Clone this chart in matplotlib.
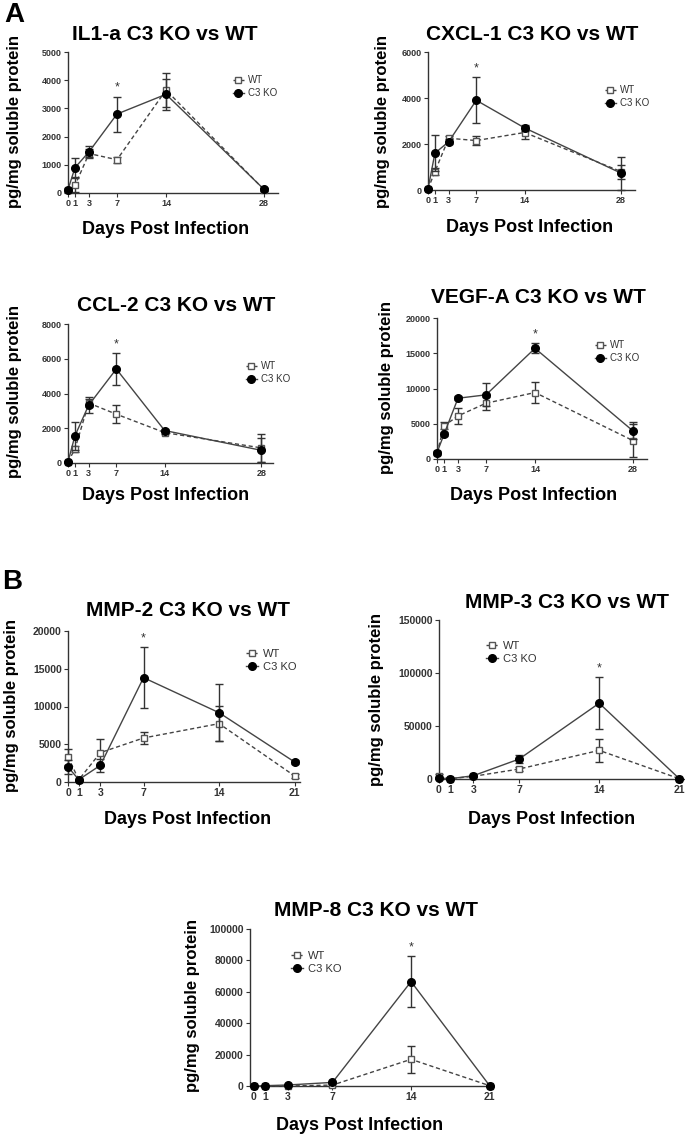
import matplotlib.pyplot as plt

plt.rcParams['font.family'] = ['Liberation Sans', 'DejaVu Sans']

W, H = 685, 1140

days_a = [0, 1, 3, 7, 14, 28]
days_b = [0, 1, 3, 7, 14, 21]

il1_wt = [100, 270, 1400, 1180, 3650, 120]
il1_wt_err = [50, 250, 150, 100, 600, 50]
il1_ko = [120, 900, 1460, 2800, 3500, 130]
il1_ko_err = [50, 330, 200, 620, 560, 50]

cxcl_wt = [40, 800, 2250, 2150, 2500, 800]
cxcl_wt_err = [30, 150, 100, 200, 300, 300]
cxcl_ko = [40, 1600, 2100, 3900, 2700, 730]
cxcl_ko_err = [30, 780, 100, 1000, 130, 720]

ccl_wt = [60, 800, 3450, 2810, 1750, 870]
ccl_wt_err = [30, 150, 250, 520, 80, 800]
ccl_ko = [60, 1560, 3330, 5410, 1870, 730]
ccl_ko_err = [30, 800, 470, 920, 100, 700]

vegf_wt = [800, 4690, 6110, 7910, 9430, 2610]
vegf_wt_err = [200, 500, 1100, 900, 1500, 2300]
vegf_ko = [900, 3500, 8620, 9100, 15700, 3980]
vegf_ko_err = [200, 300, 300, 1650, 700, 1200]

mmp2_wt = [3310, 300, 3890, 5830, 7730, 800]
mmp2_wt_err = [1000, 150, 1800, 750, 2300, 300]
mmp2_ko = [1990, 310, 2210, 13820, 9180, 2650]
mmp2_ko_err = [900, 150, 900, 4000, 3800, 200]

mmp3_wt = [2500, 300, 2500, 9400, 27000, 300]
mmp3_wt_err = [2000, 200, 500, 2300, 10700, 200]
mmp3_ko = [900, 300, 3100, 18800, 71500, 300]
mmp3_ko_err = [500, 200, 500, 3900, 24800, 200]

mmp8_wt = [0, 100, 0, 600, 17000, 200]
mmp8_wt_err = [0, 100, 200, 800, 8600, 100]
mmp8_ko = [0, 200, 640, 2300, 66500, 200]
mmp8_ko_err = [0, 100, 300, 500, 16400, 100]


def put(fig, x, y, s, **kw):
    fig.text(x / W, 1 - y / H, s, ha='center', va='center', **kw)


def panel(fig, box, days, wt, wt_err, ko, ko_err, yticks, xlim, star, title,
          title_xy, xlab_xy, ylab_xy, leg_xy, tsize, lsize):
    l, t, r, b = box
    ax = fig.add_axes([l / W, 1 - b / H, (r - l) / W, (b - t) / H])
    line_c = '#444444'
    eb_wt = ax.errorbar(days, wt, yerr=wt_err, color=line_c, ls=(0, (3, 2)),
                        lw=1, marker='s', ms=5, mfc='white', mec='#555555',
                        mew=1, ecolor='#333333', elinewidth=1, capsize=3,
                        clip_on=False, zorder=3)
    eb_ko = ax.errorbar(days, ko, yerr=ko_err, color=line_c, ls='-', lw=1,
                        marker='o', ms=5.5, mfc='black', mec='black',
                        ecolor='#333333', elinewidth=1, capsize=3,
                        clip_on=False, zorder=4)
    i = days.index(star)
    ax.annotate('*', xy=(star, ko[i] + ko_err[i]), xytext=(0, 2),
                textcoords='offset points', ha='center', va='bottom',
                fontsize=9, color='#333333')
    ax.set_xlim(*xlim)
    ax.set_ylim(0, yticks[-1])
    ax.set_xticks(days)
    ax.set_xticklabels([str(d) for d in days], fontsize=tsize, fontweight='bold')
    ax.set_yticks(yticks)
    ax.set_yticklabels([str(v) for v in yticks], fontsize=tsize, fontweight='bold')
    for side in ['top', 'right']:
        ax.spines[side].set_visible(False)
    for side in ['left', 'bottom']:
        ax.spines[side].set_color('#333333')
        ax.spines[side].set_linewidth(1)
    ax.tick_params(direction='out', length=3, width=0.8, pad=1.5, colors='#333333')

    leg = ax.legend([eb_wt[0], eb_ko[0]], ['WT', 'C3 KO'], loc='upper left',
                    bbox_to_anchor=((leg_xy[0] - l) / (r - l), (b - leg_xy[1]) / (b - t)),
                    frameon=False, handlelength=1.1, handletextpad=0.4,
                    borderaxespad=0, borderpad=0, labelspacing=0.3,
                    prop={'size': lsize})
    for txt in leg.get_texts():
        txt.set_color('#333333')

    put(fig, title_xy[0], title_xy[1], title, fontsize=15, fontweight='bold')
    put(fig, xlab_xy[0], xlab_xy[1], 'Days Post Infection', fontsize=13,
        fontweight='bold')
    put(fig, ylab_xy[0], ylab_xy[1], 'pg/mg soluble protein', fontsize=12,
        fontweight='bold', rotation=90)
    return ax


def main():
    fig = plt.figure(figsize=(W / 100, H / 100), dpi=100)

    panel(fig, (68, 52, 278, 193), days_a, il1_wt, il1_wt_err, il1_ko, il1_ko_err,
          [0, 1000, 2000, 3000, 4000, 5000], (0, 30), 7, 'IL1-a C3 KO vs WT',
          (165, 35), (166, 230), (15, 122), (233, 75), 6.5, 7)
    panel(fig, (428, 52, 635, 190), days_a, cxcl_wt, cxcl_wt_err, cxcl_ko, cxcl_ko_err,
          [0, 2000, 4000, 6000], (0, 30), 7, 'CXCL-1 C3 KO vs WT',
          (532, 35), (530, 228), (383, 122), (605, 85), 6.5, 7)
    panel(fig, (68, 324, 273, 463), days_a, ccl_wt, ccl_wt_err, ccl_ko, ccl_ko_err,
          [0, 2000, 4000, 6000, 8000], (0, 29.7), 7, 'CCL-2 C3 KO vs WT',
          (176, 305), (166, 495), (15, 392), (246, 361), 6.5, 7)
    panel(fig, (437, 318, 647, 459), days_a, vegf_wt, vegf_wt_err, vegf_ko, vegf_ko_err,
          [0, 5000, 10000, 15000, 20000], (0, 30), 14, 'VEGF-A C3 KO vs WT',
          (538, 298), (534, 495), (387, 388), (595, 340), 6.5, 7)

    panel(fig, (68, 631, 300, 782), days_b, mmp2_wt, mmp2_wt_err, mmp2_ko, mmp2_ko_err,
          [0, 5000, 10000, 15000, 20000], (0, 21.5), 7, 'MMP-2 C3 KO vs WT',
          (188, 610), (188, 820), (12, 705), (246, 649), 7.5, 8)
    panel(fig, (439, 620, 685, 779), days_b, mmp3_wt, mmp3_wt_err, mmp3_ko, mmp3_ko_err,
          [0, 50000, 100000, 150000], (0, 21.5), 14, 'MMP-3 C3 KO vs WT',
          (567, 603), (552, 820), (377, 700), (486, 641), 7.5, 8)
    panel(fig, (250, 929, 493, 1086), days_b, mmp8_wt, mmp8_wt_err, mmp8_ko, mmp8_ko_err,
          [0, 20000, 40000, 60000, 80000, 100000], (-0.35, 21.3), 14,
          'MMP-8 C3 KO vs WT', (376, 910), (360, 1125), (193, 1005), (291, 951), 7.5, 8)

    put(fig, 14, 15, 'A', fontsize=20, fontweight='bold')
    put(fig, 12, 582, 'B', fontsize=20, fontweight='bold')

    plt.savefig('out.png', dpi=100)


if __name__ == '__main__':
    main()
